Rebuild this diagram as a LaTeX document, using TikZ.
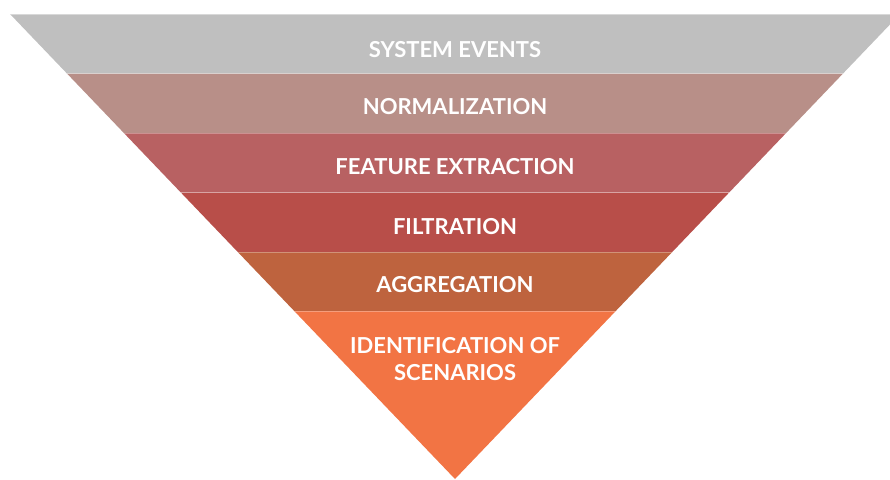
\documentclass[tikz,border=0pt]{standalone}
\usepackage{fontspec}
\setmainfont{Lato}
\definecolor{cA}{RGB}{191,191,191}
\definecolor{cB}{RGB}{184,143,136}
\definecolor{cC}{RGB}{184,97,98}
\definecolor{cD}{RGB}{184,78,73}
\definecolor{cE}{RGB}{190,99,62}
\definecolor{cF}{RGB}{242,116,68}
\tikzset{
  lbl/.style={text=white,font=\fontsize{22}{27}\selectfont\bfseries,align=center,inner sep=0pt},
  sep/.style={draw=white,draw opacity=0.3,line width=1pt}
}
\begin{document}
\begin{tikzpicture}[x=1pt,y=-1pt]
\useasboundingbox (0,0) rectangle (890,479);
\clip (0,0) rectangle (890,479);
% left edge x(y)=10+(y-14)*445/465, right edge symmetric about 455
\def\k{0.95699}
\foreach \ya/\yb/\c in {14/73.5/cA,73.5/133/cB,133/192.5/cC,192.5/252/cD,252/311/cE,311/479/cF}{
  \fill[\c] ({10+(\ya-14)*\k},\ya) -- ({900-(\ya-14)*\k},\ya) -- ({900-(\yb-14)*\k},\yb) -- ({10+(\yb-14)*\k},\yb) -- cycle;
}
\foreach \y in {73.5,133,192.5,252,311}{
  \draw[sep] ({10+(\y-14)*\k},\y) -- ({900-(\y-14)*\k},\y);
}
\draw[draw=white,draw opacity=0.4,line width=1pt] (10,14.5) -- (900,14.5);
\node[lbl] (t1) at (455,50) {SYSTEM EVENTS};
\node[lbl] (t2) at (455,107) {NORMALIZATION};
\node[lbl] (t3) at (455,167) {FEATURE EXTRACTION};
\node[lbl] (t4) at (455,227) {FILTRATION};
\node[lbl] (t5) at (455,285) {AGGREGATION};
\node[lbl] (t6) at (455,359) {IDENTIFICATION OF\\SCENARIOS};
\end{tikzpicture}
\end{document}
